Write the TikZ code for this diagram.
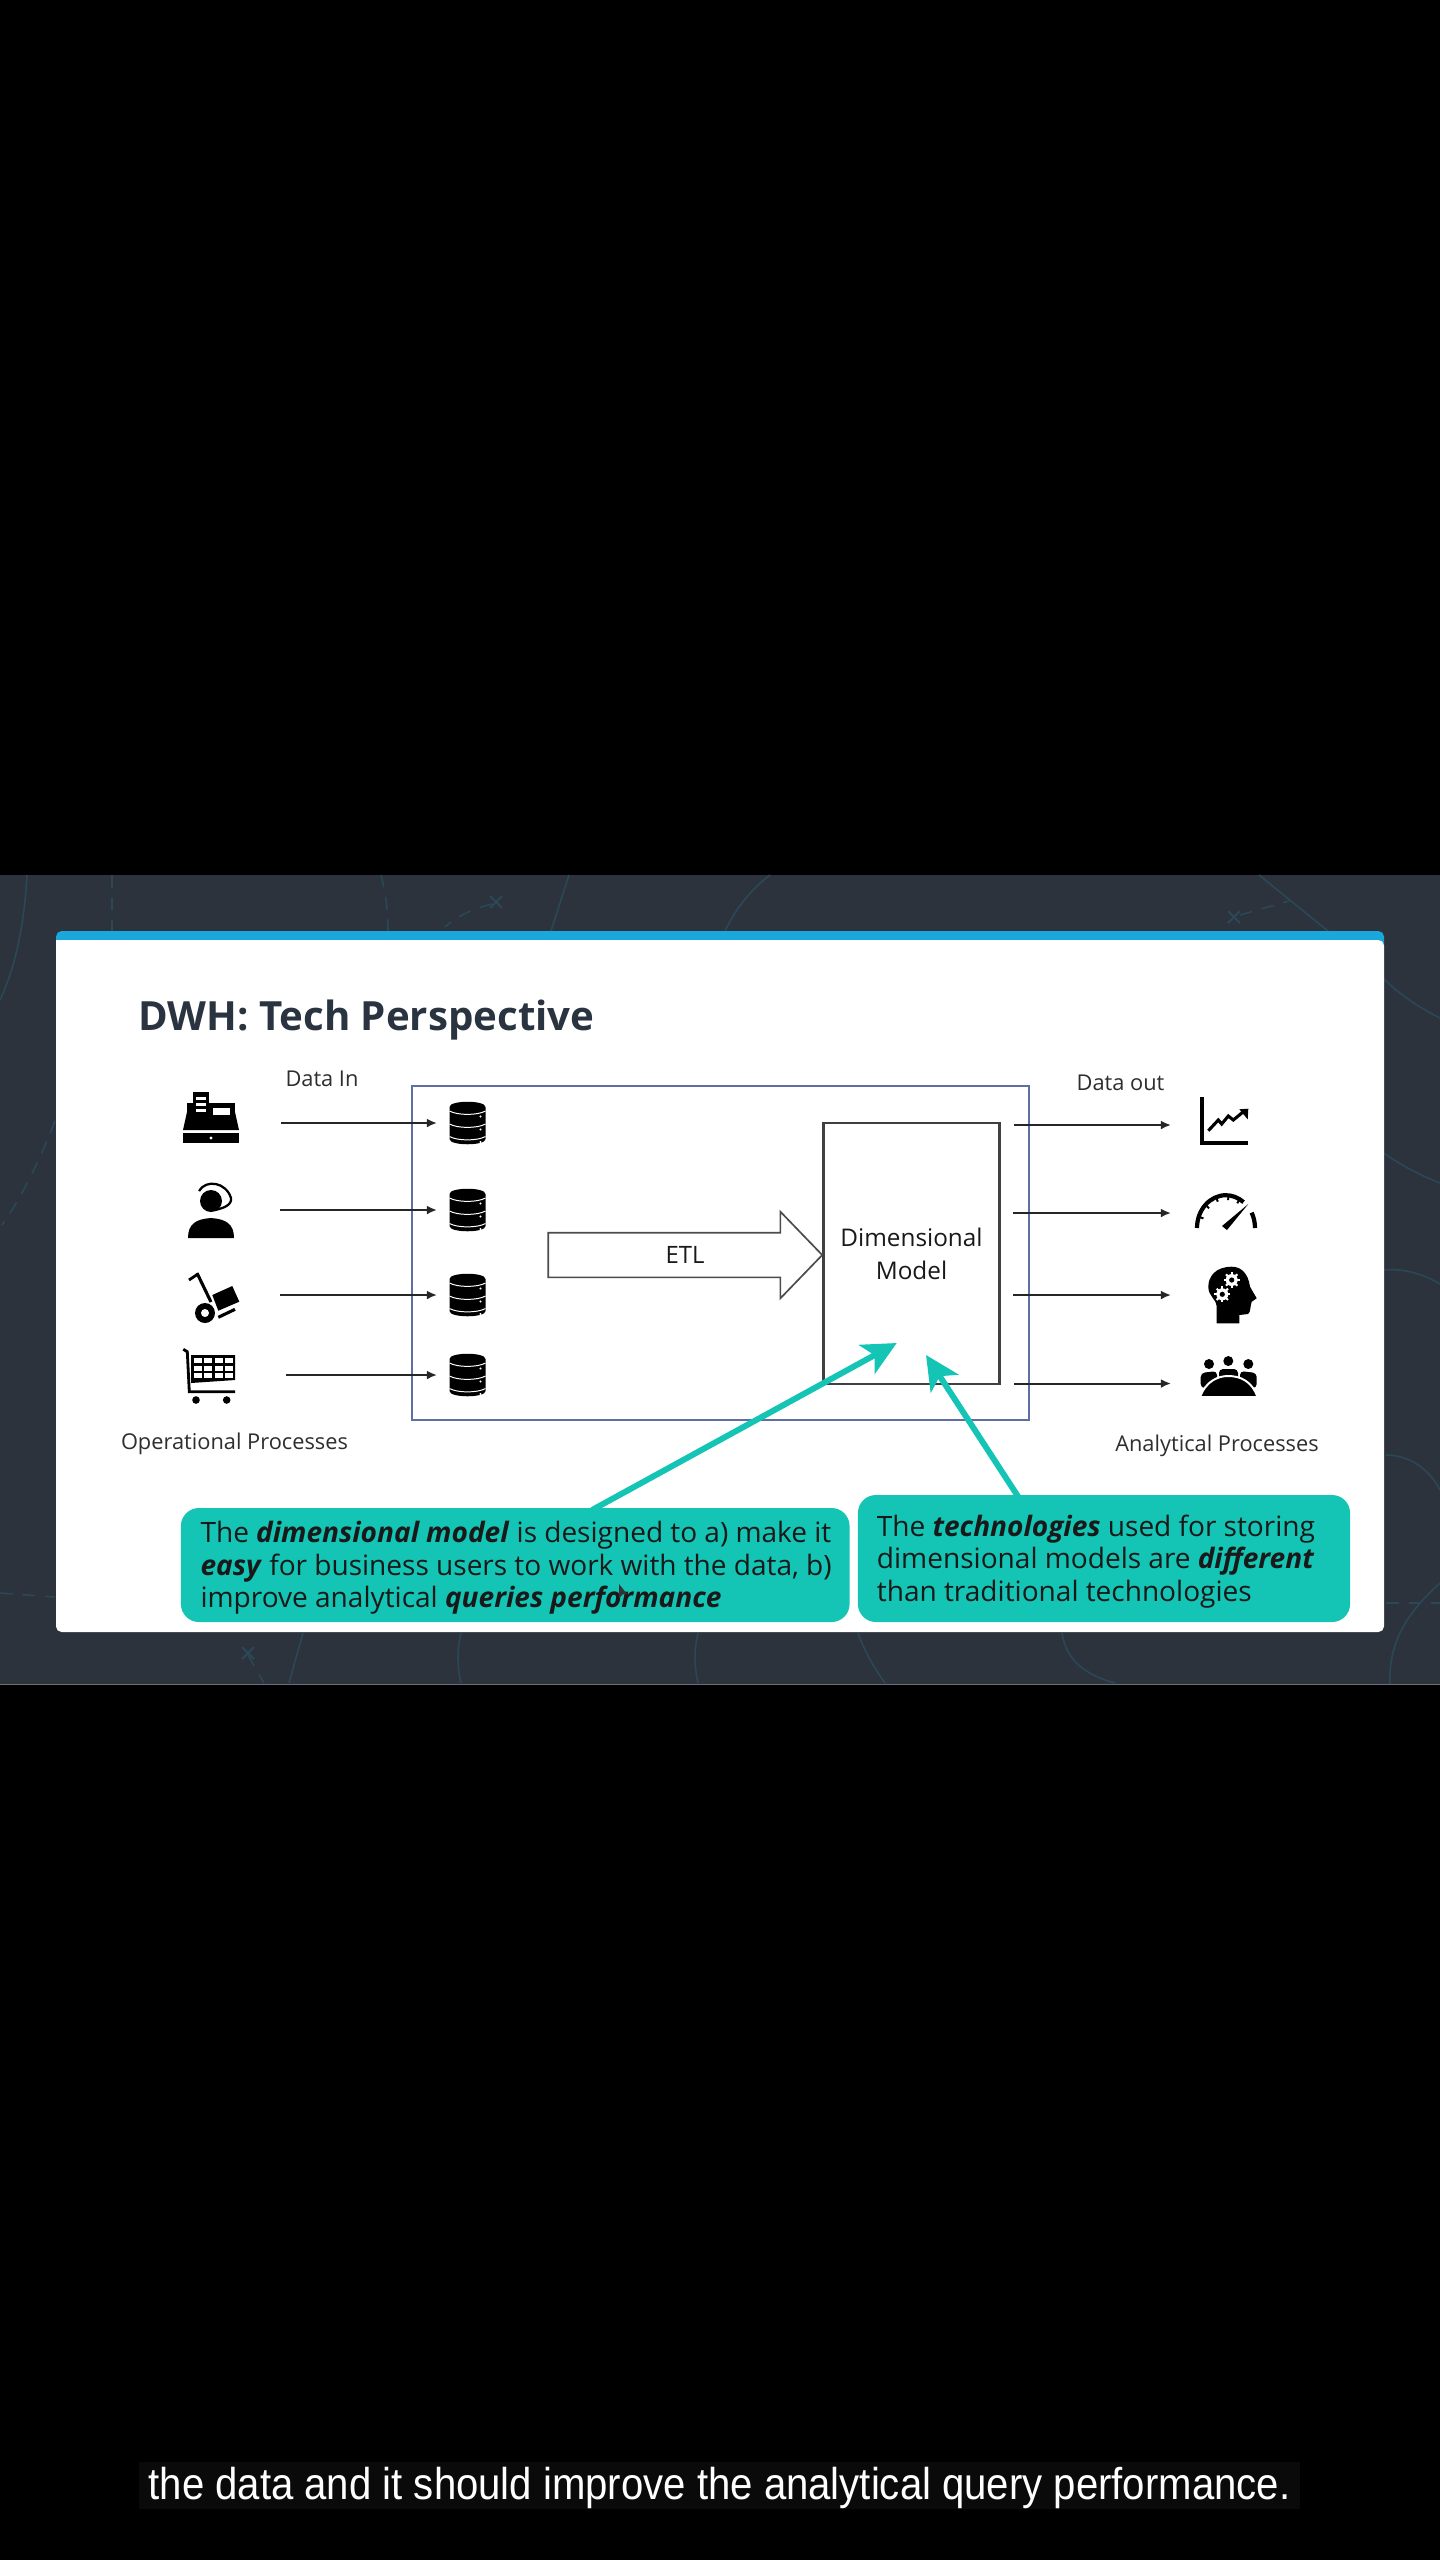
\documentclass[tikz,border=0pt]{standalone}
\usepackage{fontspec}
\setmainfont{Open Sans}
\newfontfamily\capfont[FakeStretch=0.9]{Liberation Sans}
\usetikzlibrary{arrows.meta}
\usetikzlibrary{shapes.arrows}
\definecolor{slidebg}{HTML}{2C333D}
\definecolor{sketchline}{HTML}{2B4858}
\definecolor{cardblue}{HTML}{1AA7DB}
\definecolor{noteteal}{HTML}{14C4B4}
\definecolor{boxblue}{HTML}{5F6FA3}
\definecolor{titleink}{HTML}{2A3340}
\definecolor{labelink}{HTML}{2E2E2E}
\newcommand{\notetop}{\spaceskip=5.1pt\relax\leavevmode\vrule height 19.3pt width 0pt\relax}
\newcommand{\noteindent}{\hspace*{0.234cm}}
\tikzset{
  iconbox/.style={inner sep=0pt,outer sep=0pt,minimum height=0.5cm},
  dbbox/.style={inner sep=0pt,outer sep=0pt,minimum width=1.525cm,minimum height=1cm},
  flow/.style={-{Latex[length=0.25cm,width=0.22cm]},line width=1.4pt,draw=black!85},
  tealarrow/.style={-{Stealth[length=0.85cm,width=0.82cm,inset=0.22cm]},line width=4.2pt,draw=noteteal,fill=noteteal},
  note/.style={fill=noteteal,rounded corners=0.45cm,align=left,inner sep=0pt,text=black!90,font=\fontsize{19.95}{23.25}\selectfont},
  label/.style={text=labelink,inner sep=0pt,font=\fontsize{15.5}{18}\selectfont},
  sketch/.style={draw=sketchline,line width=1.1pt},
  sketchdash/.style={sketch,dash pattern=on 9pt off 7pt},
  pics/dbstack/.style={code={
    \fill[black] (-18,-16) .. controls (-18,-23) and (18,-23) .. (18,-16) -- (18,16) .. controls (18,23) and (-18,23) .. (-18,16) -- cycle;
    \foreach \k in {-9,4,16.5}{
      \draw[white,line width=0.7pt] (-18,\k-3) .. controls (-10,\k+1.5) and (10,\k+1.5) .. (18,\k-3);
      \fill[white] (13,\k+2.5) circle (1.2);
    }
  }}
}

\begin{document}
\begin{tikzpicture}[x=0.025cm,y=-0.025cm]
\useasboundingbox (0,0) rectangle (1440,2560);
\fill[black] (0,0) rectangle (1440,2560);

%slide background
\fill[slidebg] (0,875) rectangle (1440,1684);
\draw[line width=0.7pt,draw=slidebg!70!white] (0,1684) -- (1440,1684);
\draw[sketch] (27,875) .. controls (24,930) and (14,970) .. (0,1000);
\draw[sketchdash] (112,875) -- (112,931);
\draw[sketchdash] (381,875) .. controls (386,895) and (388,912) .. (388,931);
\draw[sketchdash] (492,904) .. controls (475,908) and (458,915) .. (445,927);
\draw[sketch] (569,875) -- (551,931);
\draw[sketch] (770,875) .. controls (750,890) and (735,910) .. (725,931);
\draw[sketch] (1259,875) -- (1328,931);
\draw[sketchdash] (1240,915) -- (1289,901);
\draw[sketchdash] (55,1121) .. controls (40,1160) and (20,1200) .. (2,1225);
\draw[sketch] (1384,979) .. controls (1400,995) and (1420,1008) .. (1440,1018);
\draw[sketch] (1384,1153) .. controls (1400,1165) and (1420,1175) .. (1440,1183);
\draw[sketch] (1384,1270) .. controls (1405,1268) and (1425,1275) .. (1440,1284);
\draw[sketch] (1386,1455) .. controls (1410,1455) and (1430,1470) .. (1440,1490);
\draw[sketchdash] (0,1593) -- (55,1597);
\draw[sketchdash] (1386,1603) -- (1440,1603);
\draw[sketch] (1440,1583) .. controls (1410,1610) and (1388,1640) .. (1390,1684);
\draw[sketchdash] (248,1655) -- (264,1683);
\draw[sketch] (303,1633) -- (289,1683);
\draw[sketch] (461,1633) .. controls (457,1650) and (457,1665) .. (461,1683);
\draw[sketch] (698,1633) .. controls (694,1650) and (694,1665) .. (698,1683);
\draw[sketch] (858,1633) .. controls (864,1650) and (874,1668) .. (885,1683);
\draw[sketch] (1062,1633) .. controls (1066,1660) and (1085,1675) .. (1115,1683);
\foreach \pos in {(496,902),(1234,917),(248,1653)}
  \draw[sketchline,line width=1.3pt] \pos +(-6,-6) -- +(6,6) +(-6,6) -- +(6,-6);

%card
\fill[cardblue,rounded corners=0.14cm] (56,931) rectangle (1384,952);
\fill[white,rounded corners=0.14cm] (56,940) -- (56,1632) -- (1384,1632) -- (1384,940) [sharp corners] -- cycle;
\node[anchor=base west,inner sep=0pt,text=titleink,font=\fontsize{28.6}{34}\selectfont\bfseries] (title) at (138,1030) {DWH: Tech Perspective};

%boxes
\node[draw=boxblue,line width=1.4pt,minimum width=15.425cm,minimum height=8.35cm,inner sep=0pt] (dwh) at (720.5,1253) {};
\node[draw=black!75,line width=1.5pt,minimum width=4.4cm,minimum height=6.525cm,align=center,text=black!90,inner sep=0pt,font=\fontsize{17.3}{23.4}\selectfont] (dimmodel) at (911.5,1253.5) {Dimensional\\Model};
\node[draw=black!70,line width=1.2pt,single arrow,minimum height=6.85cm,minimum width=2.125cm,single arrow tip angle=92,single arrow head extend=0.525cm,inner xsep=0pt,inner ysep=0.5375cm] (etlarrow) at (674.4,1255) {};
\node[inner sep=0pt,text=black!90,font=\fontsize{17}{18}\selectfont] (etl) at (685,1255) {ETL};

%sources and stores
\foreach \pos/\name/\wid in {(211,1123)/cash/3.5cm, (211,1210)/agent/3.45cm, (211,1295)/dolly/3.45cm, (211,1375)/cart/3.75cm}
  \node[iconbox,minimum width=\wid] (\name) at \pos {};
\foreach \pos/\name in {(467.5,1123)/storeA, (467.5,1210)/storeB, (467.5,1295)/storeC, (467.5,1375)/storeD}{
  \node[dbbox] (\name) at \pos {};
  \pic at (\name) {dbstack};
}
\foreach \source/\dest in {cash/storeA, agent/storeB, dolly/storeC, cart/storeD}
  \draw[flow] (\source) -- (\dest);

%outputs
\foreach \pos/\name in {(1225,1125)/chart, (1225,1213)/gauge, (1225,1295)/brain, (1225,1383.5)/people}
  \node[iconbox,minimum width=2.7cm] (\name) at \pos {};
\foreach \pos/\name in {(1014,1125)/outA, (1013,1213)/outB, (1013,1295)/outC, (1014,1383.5)/outD}
  \node[coordinate] (\name) at \pos {};
\foreach \source/\dest in {outA/chart, outB/gauge, outC/brain, outD/people}
  \draw[flow] (\source) -- (\dest);

%labels
\node[label] (datain) at (322,1079) {Data In};
\node[label] (dataout) at (1120.5,1083) {Data out};
\node[label] (opproc) at (234.5,1444) {Operational Processes};
\node[label] (anproc) at (1217,1446) {Analytical Processes};

%cash register
\fill[black] (193,1092) rectangle (209,1110);
\fill[black] (187,1103) rectangle (235,1118);
\fill[black] (187,1112) -- (235,1112) -- (239,1130) -- (183,1130) -- cycle;
\fill[black] (183,1133) rectangle (239,1143);
\fill[white] (213,1108) rectangle (230,1115);
\foreach \k in {1097,1103,1109}
  \fill[white] (196,\k) rectangle (206,\k+3);
\fill[white] (211,1138) circle (1.6);

%agent
\fill[black] (211,1201) circle (11);
\draw[black,line width=1.6pt] (199,1191) .. controls (206,1179) and (226,1182) .. (231,1198) .. controls (232,1205) and (224,1208) .. (215,1210);
\fill[black] (188,1238) .. controls (188,1224) and (196,1219) .. (211,1218) .. controls (226,1219) and (234,1224) .. (234,1238) -- cycle;

%dolly
\draw[black,line width=2pt] (189,1280) -- (198,1274);
\draw[black,line width=2.2pt] (197,1273) -- (211,1302);
\fill[black] (212.3,1295) -- (232.3,1286) -- (239.3,1301.7) -- (218.3,1310.7) -- cycle;
\draw[black,line width=2.2pt] (218.3,1317.3) -- (235,1309.3);
\fill[black] (205,1313) circle (10);
\fill[white] (205,1313) circle (4);

%cart
\draw[black,line width=2pt] (183.3,1349.3) -- (187.3,1351.7) -- (189.3,1391.7) -- (235,1391.7);
\fill[black] (191,1355) -- (235,1355) -- (235,1380) -- (191,1383) -- cycle;
\foreach \i in {0,1,2,3}
  \foreach \j in {0,1,2}
    \fill[white] (194+\i*10.4,1358+\j*7.6) rectangle (202+\i*10.4,1363+\j*7.6);
\foreach \pos in {(196,1400),(226.7,1400)}
  \fill[black] \pos circle (3.8);

%chart
\draw[black,line width=2.2pt] (1202,1097) -- (1202,1143) -- (1248,1143);
\draw[black,line width=2.2pt] (1208.3,1130.7) -- (1218.3,1120) -- (1221.7,1124) -- (1228.3,1116) -- (1233.3,1120) -- (1243,1112);
\fill[black] (1239.3,1109.3) -- (1248.3,1108.7) -- (1247.7,1119.3) -- cycle;

%gauge
\draw[black,line width=3pt] (1197,1228) arc[start angle=180,end angle=52,x radius=0.72cm,y radius=0.82cm];
\draw[black,line width=3pt] (1255,1228) arc[start angle=0,end angle=28,x radius=0.72cm,y radius=0.82cm];
\foreach \ang in {160,135,110,85,62}
  \draw[black,line width=1.4pt] (1226,1228) ++(\ang:0.6cm and 0.7cm) -- ++(\ang:0.12cm);
\fill[black] (1248.3,1204) -- (1222,1226) -- (1227,1230) -- cycle;

%brain
\fill[black] (1216.7,1323.3) -- (1239.3,1323.3) -- (1239.3,1315) -- (1248,1314) .. controls (1251,1312) and (1250,1306) .. (1251.7,1301.7) -- (1256.7,1298.3) -- (1250,1286.7) .. controls (1248,1272) and (1240,1266.7) .. (1231.7,1266.7) .. controls (1216,1266.7) and (1208.3,1276) .. (1208.3,1287) .. controls (1208.3,1296) and (1216.7,1300) .. (1216.7,1306) -- cycle;
\foreach \pos in {(1231.7,1280),(1222.3,1294.3)}{
  \fill[white] \pos circle (6);
  \foreach \ang in {0,45,...,315}
    \draw[white,line width=1.5pt] \pos ++(\ang:0.12cm) -- ++(\ang:0.08cm);
  \fill[black] \pos circle (2.6);
}

%people
\foreach \pos in {(1209,1364),(1228.3,1361),(1248.3,1364)}
  \fill[black] \pos circle (5);
\fill[black,rounded corners=0.1cm] (1200.7,1388) -- (1200.7,1373) -- (1217,1371) -- (1217,1388) -- cycle;
\fill[black,rounded corners=0.1cm] (1219,1385) -- (1219,1369) -- (1238,1369) -- (1238,1385) -- cycle;
\fill[black,rounded corners=0.1cm] (1240,1388) -- (1240,1371) -- (1256.7,1373) -- (1256.7,1388) -- cycle;
\fill[black,draw=white,line width=1.4pt] (1200,1397) .. controls (1206,1381) and (1218,1376) .. (1228.3,1376) .. controls (1240,1376) and (1252,1381) .. (1257.5,1397) -- cycle;

%teal arrows
\coordinate (fromA) at (592,1510);
\coordinate (tipA) at (896.7,1343);
\coordinate (fromB) at (1018.4,1497);
\coordinate (tipB) at (926,1355);
\draw[tealarrow] (fromA) -- (tipA);
\draw[tealarrow] (fromB) -- (tipB);

%notes
\node[note,minimum width=16.7125cm,minimum height=2.85cm,text width=16.2cm] (noteA) at (515.25,1565) {\notetop\noteindent The \textbf{\textit{dimensional model}} is designed to a) make it\\\noteindent\textbf{\textit{easy}} for business users to work with the data, b)\\\noteindent improve analytical \textbf{\textit{queries performance}}};
\node[note,minimum width=12.3cm,minimum height=3.175cm,text width=11.35cm] (noteB) at (1104,1558.5) {\notetop The \textbf{\textit{technologies}} used for storing\\dimensional models are \textbf{\textit{different}}\\than traditional technologies};
\fill[black!80] (619,1584) -- (619,1598) -- (622.5,1594.5) -- (627,1594) -- cycle;

%caption
\node[fill=black!96!white,minimum width=29.025cm,minimum height=1.175cm,inner sep=0pt,text=white,text height=24.2pt,text depth=5pt,font=\capfont\fontsize{31.7}{36}\selectfont] (caption) at (719.5,2485.5) {the data and it should improve the analytical query performance.};
\end{tikzpicture}
\end{document}
